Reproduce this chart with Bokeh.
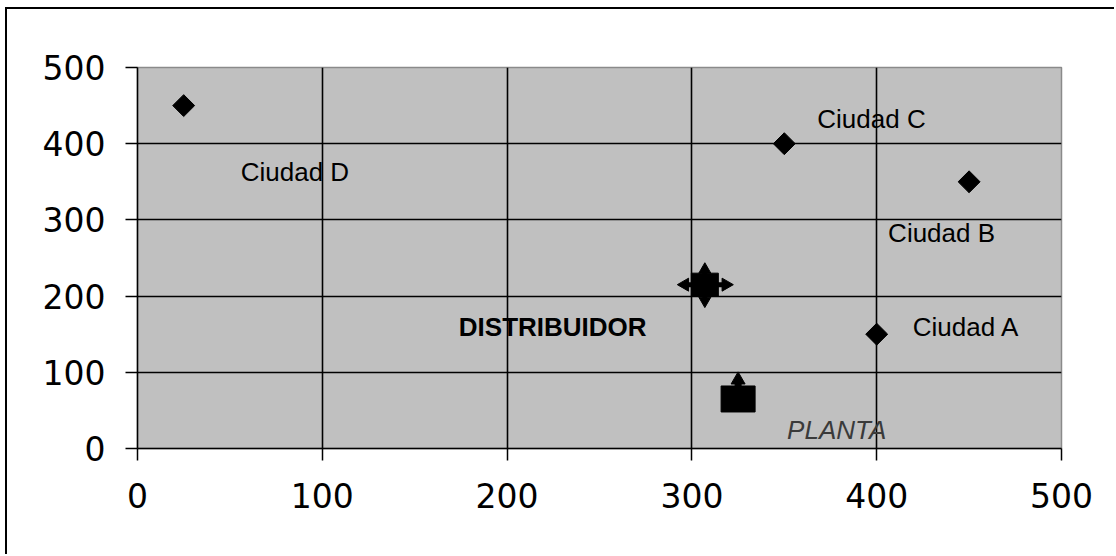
import math
from bokeh.plotting import figure
from bokeh.models import ColumnDataSource, FixedTicker
from bokeh.core.properties import value
from bokeh.embed import file_html
from bokeh.resources import INLINE

# ---------------- data ----------------
city_names = ["Ciudad A", "Ciudad B", "Ciudad C", "Ciudad D"]
city_x = [400, 450, 350, 25]
city_y = [150, 350, 400, 450]

dist_label = "DISTRIBUIDOR"
dist_x = [307]
dist_y = [215]

plant_label = "PLANTA"
plant_x = [325]
plant_y = [65]

ticks = [0, 100, 200, 300, 400, 500]

# ---------------- layout / style ----------------
FONT = "Liberation Sans"
TICK_FONT = "DejaVu Sans"
W, H = 1109, 547
LEFT, RIGHT, TOP, BOTTOM = 130, 55, 58, 108
FRAME_W = W - LEFT - RIGHT
FRAME_H = H - TOP - BOTTOM
X0, X1 = ticks[0], ticks[-1]
UX = (X1 - X0) / FRAME_W   # data units per screen px (x)
UY = (X1 - X0) / FRAME_H   # data units per screen px (y)

city_dx = [36, -81, 33, 57]
city_dy = [-7.5, 51, -24.5, 66.5]

p = figure(width=W, height=H, output_backend="svg", toolbar_location=None,
           x_range=(X0, X1), y_range=(X0, X1),
           min_border_left=LEFT, min_border_right=RIGHT,
           min_border_top=TOP, min_border_bottom=BOTTOM,
           background_fill_color="#c0c0c0", border_fill_color="white")
p.margin = (9, 0, 0, 7)
p.styles = {"box-shadow": "-2px -2px 0 0 #000000"}

p.outline_line_color = "#8a8a8a"
p.outline_line_width = 1.5

for ax in (p.xaxis[0], p.yaxis[0]):
    ax.ticker = FixedTicker(ticks=ticks)
    ax.axis_line_color = "black"
    ax.axis_line_width = 1.5
    ax.major_tick_line_color = "black"
    ax.major_tick_line_width = 1.5
    ax.major_tick_in = 0
    ax.major_tick_out = 12
    ax.minor_tick_line_color = None
    ax.major_label_text_font = TICK_FONT
    ax.major_label_text_font_size = "33px"
    ax.major_label_text_color = "black"
p.yaxis[0].major_label_standoff = 20
p.xaxis[0].major_label_standoff = 22

for g in (p.xgrid[0], p.ygrid[0]):
    g.ticker = FixedTicker(ticks=ticks[1:-1])
    g.grid_line_color = "black"
    g.grid_line_width = 1.6

# cities
p.scatter(city_x, city_y, marker="square", angle=math.pi / 4, size=15.5,
          fill_color="black", line_color="black")
csrc = ColumnDataSource(dict(x=city_x, y=city_y, t=city_names, dx=city_dx, dy=city_dy))
p.text(x="x", y="y", text="t", x_offset="dx", y_offset="dy", source=csrc,
       text_font=value(FONT), text_font_size="26px", text_color="black",
       text_baseline="alphabetic", text_align="left")

# distribuidor: square with four arrows
dxs = [dist_x[0] - 20 * UX, dist_x[0] + 21 * UX, dist_x[0], dist_x[0]]
dys = [dist_y[0], dist_y[0], dist_y[0] + 15 * UY, dist_y[0] - 16 * UY]
angs = [math.pi / 2, -math.pi / 2, 0, math.pi]
sizes = [13, 13, 12, 12]
p.scatter(dist_x, dist_y, marker="dash", size=46, line_width=5, line_color="black")
p.scatter(dist_x, dist_y, marker="dash", size=36, angle=math.pi / 2, line_width=5, line_color="black")
p.rect(dist_x, dist_y, width=27, height=23, width_units="screen", height_units="screen",
       fill_color="black", line_color="black")
p.scatter(dxs, dys, marker="triangle", angle=angs, size=sizes, fill_color="black", line_color="black")
p.text(x=dist_x, y=dist_y, text=[dist_label], x_offset=-246, y_offset=42,
       text_font=value(FONT), text_font_size="26px", text_font_style="bold",
       text_color="black", text_baseline="alphabetic", text_align="left")

# planta: block with small arrow on top
p.rect(plant_x, plant_y, width=34, height=26, width_units="screen", height_units="screen",
       fill_color="black", line_color="black")
p.rect(plant_x, [plant_y[0] + 14 * UY], width=6, height=5, width_units="screen",
       height_units="screen", fill_color="black", line_color="black")
p.scatter(plant_x, [plant_y[0] + 19 * UY], marker="triangle", size=14,
          fill_color="black", line_color="black")
p.text(x=plant_x, y=plant_y, text=[plant_label], x_offset=49, y_offset=31,
       text_font=value(FONT), text_font_size="26px", text_font_style="italic",
       text_color="#3a3a3a", text_baseline="alphabetic", text_align="left")

open("out.html", "w").write(file_html(p, INLINE))
